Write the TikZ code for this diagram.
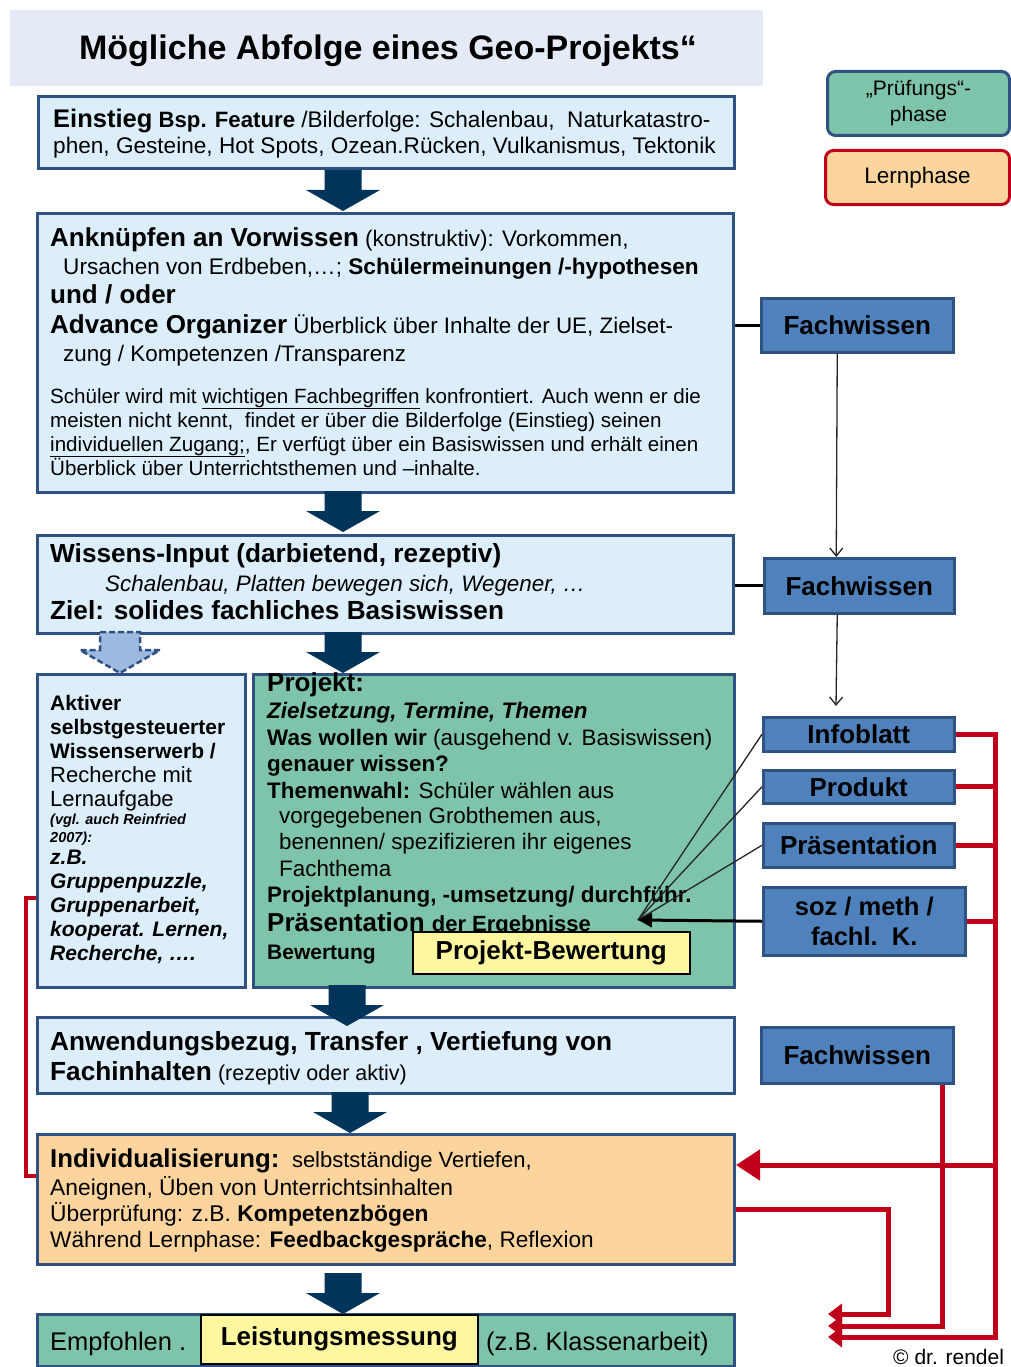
\documentclass[tikz,border=0pt]{standalone}
\usepackage{fontspec}
\setmainfont{Liberation Sans}
\usetikzlibrary{arrows.meta}

\definecolor{navyb}{RGB}{47,82,130}
\definecolor{lblue}{RGB}{220,238,250}
\definecolor{tealg}{RGB}{126,196,170}
\definecolor{peach}{RGB}{251,212,158}
\definecolor{yelb}{RGB}{255,246,160}
\definecolor{bblue}{RGB}{79,129,189}
\definecolor{redc}{RGB}{192,0,26}
\definecolor{arrc}{RGB}{0,52,90}
\definecolor{titlebg}{RGB}{229,235,246}
\definecolor{darrow}{RGB}{157,185,224}

\newcommand\fsz[1]{\fontsize{#1}{#1}\selectfont}

\tikzset{
  panel/.style={draw=navyb, line width=3pt, anchor=north west, inner sep=0pt},
  rbox/.style={draw=navyb, fill=bblue, line width=2.5pt, anchor=north west, inner sep=0pt},
  rlabel/.style={inner sep=0pt, align=center, font=\fsz{26}\bfseries},
  txt/.style={anchor=base west, inner sep=0pt, font=\fsz{22.4}},
  legendbox/.style={line width=3pt, rounded corners=8pt, anchor=north west, inner sep=0pt},
  yelbox/.style={draw=black, fill=yelb, line width=1.6pt, anchor=north west, inner sep=0pt},
  blkline/.style={draw=black, line width=3pt},
  thinline/.style={draw=black!85, line width=1.3pt},
  redline/.style={draw=redc, line width=5pt},
  redtip/.style={-{Triangle[length=14pt,width=20pt]}},
  bigarrow/.pic={\fill[arrc] (-18.5,0) -- (18.5,0) -- (18.5,20) -- (37,20) -- (0,41) -- (-37,20) -- (-18.5,20) -- cycle;},
  dasharrow/.pic={\filldraw[fill=darrow, draw=navyb, dash pattern=on 6pt off 3pt, line width=2.5pt] (-20,0) -- (20,0) -- (20,18) -- (40,18) -- (0,41) -- (-40,18) -- (-20,18) -- cycle;}
}

\begin{document}
\begin{tikzpicture}[x=1pt,y=-1pt]
\useasboundingbox (0,0) rectangle (1010,1367);
\fill[white] (0,0) rectangle (1010,1367);

% title
\fill[titlebg] (10,10) rectangle (763,86);
\node[anchor=base, inner sep=0pt] (title) at (388,60) {\fsz{34}\bfseries Mögliche Abfolge eines Geo-Projekts“};

% legend
\node[legendbox, draw=navyb, fill=tealg, minimum width=182pt, minimum height=64pt] (pruef) at (826,70) {};
\node[inner sep=0pt, align=center, font=\fontsize{21}{26}\selectfont] (pruefT) at (pruef) {„Prüfungs“-\\phase};
\node[legendbox, draw=redc, fill=peach, minimum width=184pt, minimum height=54pt] (lernp) at (824,149) {};
\node[inner sep=0pt, font=\fsz{22.5}] (lernT) at (lernp) {Lernphase};

% Einstieg
\node[panel, fill=lblue, minimum width=696pt, minimum height=72pt] (einst) at (37,95) {};
\node[txt] (e1) at (53,128) {\textbf{\fsz{25.5}Einstieg} \textbf{\fsz{22.2}Bsp. Feature} \fsz{22.6}/Bilderfolge: Schalenbau,\ \ Naturkatastro-};
\node[txt] (e2) at (53,154) {\fsz{22.6}phen, Gesteine, Hot Spots, Ozean.Rücken, Vulkanismus, Tektonik};

% Anknuepfen
\node[panel, fill=lblue, minimum width=696pt, minimum height=279pt] (ankn) at (36,212) {};
\node[txt] (a1) at (50,246) {\textbf{\fsz{26}Anknüpfen an Vorwissen} \fsz{22.5}(konstruktiv): Vorkommen,};
\node[txt] (a2) at (63,274) {\fsz{22.6}Ursachen von Erdbeben,…; \textbf{Schülermeinungen /-hypothesen}};
\node[txt] (a3) at (50,303) {\fsz{26}\bfseries und / oder};
\node[txt] (a4) at (50,333) {\textbf{\fsz{26}Advance Organizer} \fsz{22.4}Überblick über Inhalte der UE, Zielset-};
\node[txt] (a5) at (63,361) {\fsz{22.4}zung / Kompetenzen /Transparenz};
\node[txt, font=\fsz{20.6}] (a6) at (50,403) {Schüler wird mit \underline{wichtigen Fachbegriffen} konfrontiert. Auch wenn er die};
\node[txt, font=\fsz{20.6}] (a7) at (50,427) {meisten nicht kennt,\ \ findet er über die Bilderfolge (Einstieg) seinen};
\node[txt, font=\fsz{20.6}] (a8) at (50,451) {\underline{individuellen Zugang;}, Er verfügt über ein Basiswissen und erhält einen};
\node[txt, font=\fsz{20.6}] (a9) at (50,475) {Überblick über Unterrichtsthemen und –inhalte.};

% Wissens-Input
\node[panel, fill=lblue, minimum width=696pt, minimum height=98pt] (wiss) at (36,534) {};
\node[txt] (w1) at (50,562) {\fsz{26.2}\bfseries Wissens-Input (darbietend, rezeptiv)};
\node[txt] (w2) at (105,591) {\fsz{22.4}\itshape Schalenbau, Platten bewegen sich, Wegener, …};
\node[txt] (w3) at (50,619) {\fsz{26.2}\bfseries Ziel: solides fachliches Basiswissen};

% Aktiver Wissenserwerb
\node[panel, fill=lblue, minimum width=208pt, minimum height=313pt] (akt) at (36,673) {};
\node[txt] (k1) at (50,710) {\fsz{21}\bfseries Aktiver};
\node[txt] (k2) at (50,734) {\fsz{21}\bfseries selbstgesteuerter};
\node[txt] (k3) at (50,758) {\fsz{21}\bfseries Wissenserwerb /};
\node[txt] (k4) at (50,782) {\fsz{22}Recherche mit};
\node[txt] (k5) at (50,806) {\fsz{22}Lernaufgabe};
\node[txt] (k6) at (50,824) {\fsz{14.5}\bfseries\itshape (vgl. auch Reinfried};
\node[txt] (k7) at (50,842) {\fsz{14.5}\bfseries\itshape 2007):};
\node[txt] (k8) at (50,864) {\fsz{21}\bfseries\itshape z.B.};
\node[txt] (k9) at (50,888) {\fsz{21}\bfseries\itshape Gruppenpuzzle,};
\node[txt] (k10) at (50,912) {\fsz{21}\bfseries\itshape Gruppenarbeit,};
\node[txt] (k11) at (50,936) {\fsz{21}\bfseries\itshape kooperat. Lernen,};
\node[txt] (k12) at (50,960) {\fsz{21}\bfseries\itshape Recherche, ….};

% Projekt
\node[panel, fill=tealg, minimum width=481pt, minimum height=313pt] (proj) at (252,673) {};
\node[txt] (p1) at (267,691) {\fsz{26}\bfseries Projekt:};
\node[txt] (p2) at (267,718) {\bfseries\itshape Zielsetzung, Termine, Themen};
\node[txt] (p3) at (267,745) {\textbf{Was wollen wir} (ausgehend v. Basiswissen)};
\node[txt] (p4) at (267,771) {\bfseries genauer wissen?};
\node[txt] (p5) at (267,798) {\textbf{Themenwahl:} Schüler wählen aus};
\node[txt] (p6) at (279,823) {vorgegebenen Grobthemen aus,};
\node[txt] (p7) at (279,849) {benennen/ spezifizieren ihr eigenes};
\node[txt] (p8) at (279,876) {Fachthema};
\node[txt] (p9) at (267,902) {\bfseries Projektplanung, -umsetzung/ durchführ.};
\node[txt] (p10) at (267,931) {\bfseries\fsz{26}Präsentation \fsz{22}der Ergebnisse};
\node[txt] (p11) at (267,959) {\fsz{21}\bfseries Bewertung};
\node[yelbox, minimum width=277pt, minimum height=42pt] (pbew) at (412,931) {};
\node[inner sep=0pt, font=\fsz{26}\bfseries] (pbewT) at (pbew) {Projekt-Bewertung};

% Anwendungsbezug
\node[panel, fill=lblue, minimum width=697pt, minimum height=76pt] (anw) at (36,1016) {};
\node[txt] (n1) at (50,1050) {\fsz{26.2}\bfseries Anwendungsbezug, Transfer , Vertiefung von};
\node[txt] (n2) at (50,1080) {\textbf{\fsz{26.2}Fachinhalten} \fsz{21.5}(rezeptiv oder aktiv)};

% Individualisierung
\node[panel, fill=peach, minimum width=697pt, minimum height=130pt] (indiv) at (36,1133) {};
\node[txt] (i1) at (50,1167) {\textbf{\fsz{25.8}Individualisierung:}\ \ \fsz{22}selbstständige Vertiefen,};
\node[txt] (i2) at (50,1195) {\fsz{22.8}Aneignen, Üben von Unterrichtsinhalten};
\node[txt] (i3) at (50,1221) {\fsz{22.8}Überprüfung: z.B. \textbf{Kompetenzbögen}};
\node[txt] (i4) at (50,1247) {\fsz{22.6}Während Lernphase: \textbf{Feedbackgespräche}, Reflexion};

% Leistungsmessung
\node[panel, fill=tealg, minimum width=697pt, minimum height=52pt] (leist) at (36,1313) {};
\node[txt] (b1) at (50,1350) {\fsz{25.5}Empfohlen .};
\node[yelbox, minimum width=277pt, minimum height=49pt] (lm) at (200,1314) {};
\node[inner sep=0pt, font=\fsz{26}\bfseries] (lmT) at (lm) {Leistungsmessung};
\node[txt] (b2) at (486,1350) {\fsz{25.5}(z.B. Klassenarbeit)};

\node[txt] (copy) at (893,1364) {\fsz{21}© dr. rendel};

% right-hand boxes
\node[rbox, minimum width=192pt, minimum height=54pt] (fw1) at (760,297) {};
\node[rlabel] (fw1T) at (fw1) {Fachwissen};
\node[rbox, minimum width=190pt, minimum height=55pt] (fw2) at (763,557) {};
\node[rlabel] (fw2T) at (fw2) {Fachwissen};
\node[rbox, minimum width=191pt, minimum height=34pt] (info) at (762,716) {};
\node[rlabel] (infoT) at (info) {Infoblatt};
\node[rbox, minimum width=191pt, minimum height=33pt] (prod) at (762,769) {};
\node[rlabel] (prodT) at (prod) {Produkt};
\node[rbox, minimum width=191pt, minimum height=44pt] (praes) at (762,822) {};
\node[rlabel] (praesT) at (praes) {Präsentation};
\node[rbox, minimum width=202pt, minimum height=68pt] (soz) at (762,886) {};
\node[rlabel, font=\fontsize{25.5}{30}\selectfont\bfseries] (sozT) at (soz) {soz / meth /\\fachl.\ \ K.};
\node[rbox, minimum width=192pt, minimum height=56pt] (fw3) at (760,1026) {};
\node[rlabel] (fw3T) at (fw3) {Fachwissen};

% block arrows of the main sequence
\pic at (343,170) {bigarrow};
\pic at (343,491) {bigarrow};
\pic at (343,632) {bigarrow};
\pic at (120,632) {dasharrow};
\pic at (347,985) {bigarrow};
\pic at (350,1092) {bigarrow};
\pic at (343,1273) {bigarrow};

% black connectors
\draw[blkline] (ankn.east |- fw1.west) -- (fw1.west);
\draw[blkline] (wiss.east |- fw2.west) -- (fw2.west);
\draw[thinline, -{Straight Barb[length=8pt,width=13pt]}] ([xshift=-20pt]fw1.south) -- ([xshift=-23pt]fw2.north);
\coordinate (infotop) at (836,706);
\draw[thinline, -{Straight Barb[length=8pt,width=13pt]}] ([xshift=-22pt]fw2.south) -- (infotop);

\coordinate (conv) at (638,920);
\draw[thinline] (info.west) -- (conv);
\draw[thinline] (prod.west) -- (conv);
\draw[thinline] (praes.west) -- (conv);
\draw[blkline, -{Triangle[length=14pt,width=14pt]}] (soz.west) -- (conv);

% red feedback lines
\coordinate (busB) at (995,1337);
\coordinate (tipC) at (828,1337);
\coordinate (fwB) at (942,1326);
\coordinate (tipB) at (828,1326);
\coordinate (loopB) at (888,1314);
\coordinate (tipA) at (828,1314);
\draw[redline, redtip] (info.east) -| (busB) -- (tipC);
\draw[redline] (prod.east) -- (prod.east -| busB);
\draw[redline] (praes.east) -- (praes.east -| busB);
\draw[redline] (soz.east) -- (soz.east -| busB);
\draw[redline, -{Triangle[length=24pt,width=30pt]}] (busB |- indiv.north east) ++(0,32) -- ([yshift=-32pt]indiv.north east);
\draw[redline, redtip] (fw3.south -| fwB) -- (fwB) -- (tipB);
\draw[redline, redtip] ([yshift=-76pt]indiv.north east) -| (loopB) -- (tipA);
\draw[draw=redc, line width=3.5pt] ([yshift=-225pt]akt.north west) -- ++(-10,0) |- ([yshift=-43pt]indiv.north west);
\end{tikzpicture}
\end{document}
